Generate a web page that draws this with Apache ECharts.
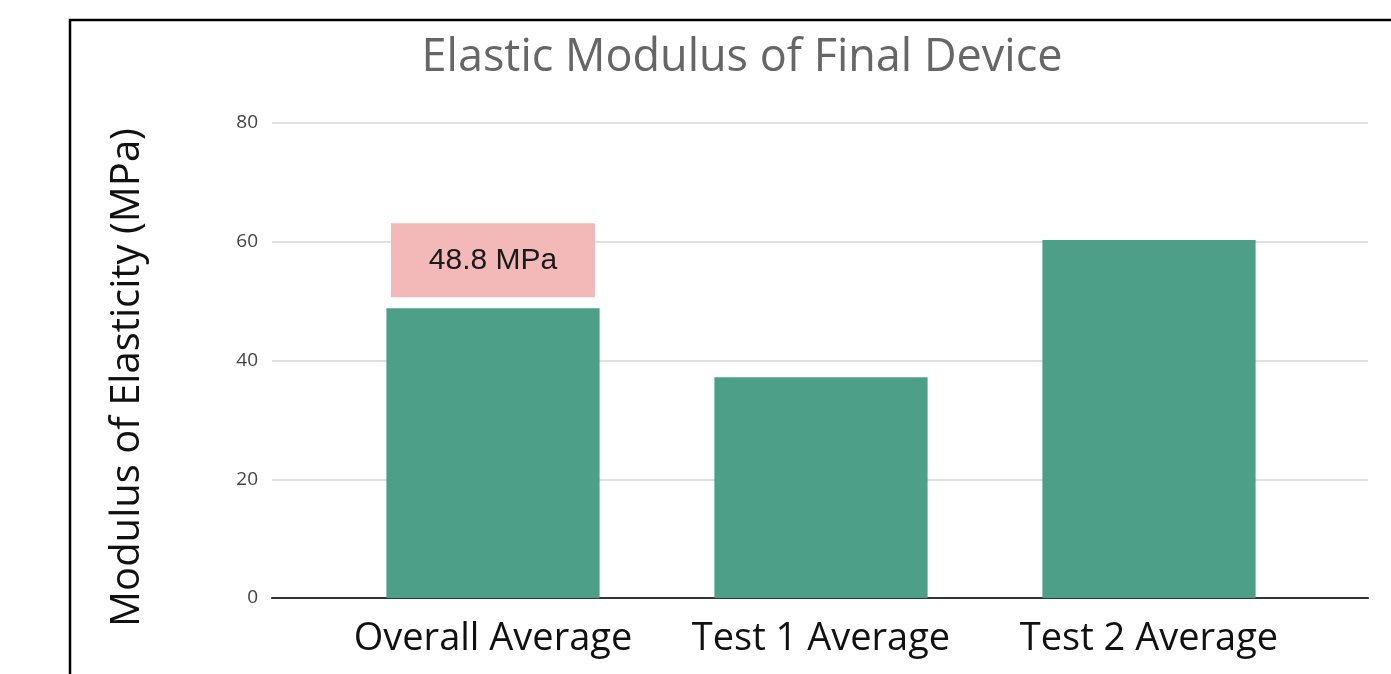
<!DOCTYPE html>
<html>
<head>
<meta charset="utf-8">
<script src="https://cdn.jsdelivr.net/npm/echarts@6/dist/echarts.min.js"></script>
<style>
html,body{margin:0;padding:0;background:#fff;}
#chart{width:1391px;height:674px;}
</style>
</head>
<body>
<div id="chart"></div>
<script>
const titleText = 'Elastic Modulus of Final Device';
const yAxisName = 'Modulus of Elasticity (MPa)';
const categories = ['Overall Average', 'Test 1 Average', 'Test 2 Average'];
const values = [48.8, 37.2, 60.3];
const labelTexts = ['48.8 MPa', '', ''];
const yTicks = [0, 20, 40, 60, 80];

const chart = echarts.init(document.getElementById('chart'));
const font = 'Open Sans';

const barData = values.map((v, i) => {
  const item = { value: v };
  if (labelTexts[i]) {
    item.label = {
      show: true,
      position: 'top',
      distance: 11,
      formatter: labelTexts[i],
      backgroundColor: '#f3b8b8',
      width: 204,
      align: 'center',
      padding: [19, 0, 19, 0],
      lineHeight: 36,
      fontSize: 30,
      fontFamily: 'Liberation Sans',
      color: '#1a1a1a'
    };
  }
  return item;
});

chart.setOption({
  backgroundColor: '#ffffff',
  animation: false,
  title: {
    text: titleText,
    left: 737,
    top: 31,
    textAlign: 'center',
    textStyle: { fontFamily: font, fontSize: 45, fontWeight: 'normal', color: '#666666' }
  },
  graphic: [{
    type: 'rect',
    shape: { x: 70, y: 20, width: 1400, height: 700 },
    style: { fill: 'none', stroke: '#000', lineWidth: 2.5 },
    silent: true
  }],
  grid: [
    { left: 272, right: 23, top: 123, bottom: 76 },
    { left: 329, right: 78, top: 123, bottom: 76 }
  ],
  xAxis: [
    {
      gridIndex: 0, type: 'value', min: 0, max: 1,
      axisLine: { show: true, lineStyle: { color: '#333', width: 2 } },
      axisTick: { show: false }, axisLabel: { show: false }, splitLine: { show: false }
    },
    {
      gridIndex: 1, type: 'category', data: categories,
      axisLine: { show: false }, axisTick: { show: false },
      axisLabel: { interval: 0, hideOverlap: false, fontFamily: font, fontSize: 38, color: '#111', margin: 22 }
    }
  ],
  yAxis: [
    {
      gridIndex: 0, type: 'value', min: 0, max: 80, interval: 20,
      name: yAxisName, nameLocation: 'middle', nameRotate: 90, nameGap: 124,
      nameTextStyle: { fontFamily: font, fontSize: 40, color: '#111', padding: [0, 34, 0, 0] },
      axisLine: { show: false }, axisTick: { show: false },
      axisLabel: { fontFamily: font, fontSize: 19, color: '#444', margin: 14 },
      splitLine: { show: true, lineStyle: { color: '#d6d6d6', width: 1.5 } }
    },
    {
      gridIndex: 1, type: 'value', min: 0, max: 80, interval: 20, show: false,
      splitLine: { show: false }
    }
  ],
  series: [{
    type: 'bar',
    xAxisIndex: 1, yAxisIndex: 1,
    data: barData,
    barCategoryGap: '35%',
    itemStyle: { color: '#4e9f87' },
    label: { show: false }
  }]
});
</script>
</body>
</html>
